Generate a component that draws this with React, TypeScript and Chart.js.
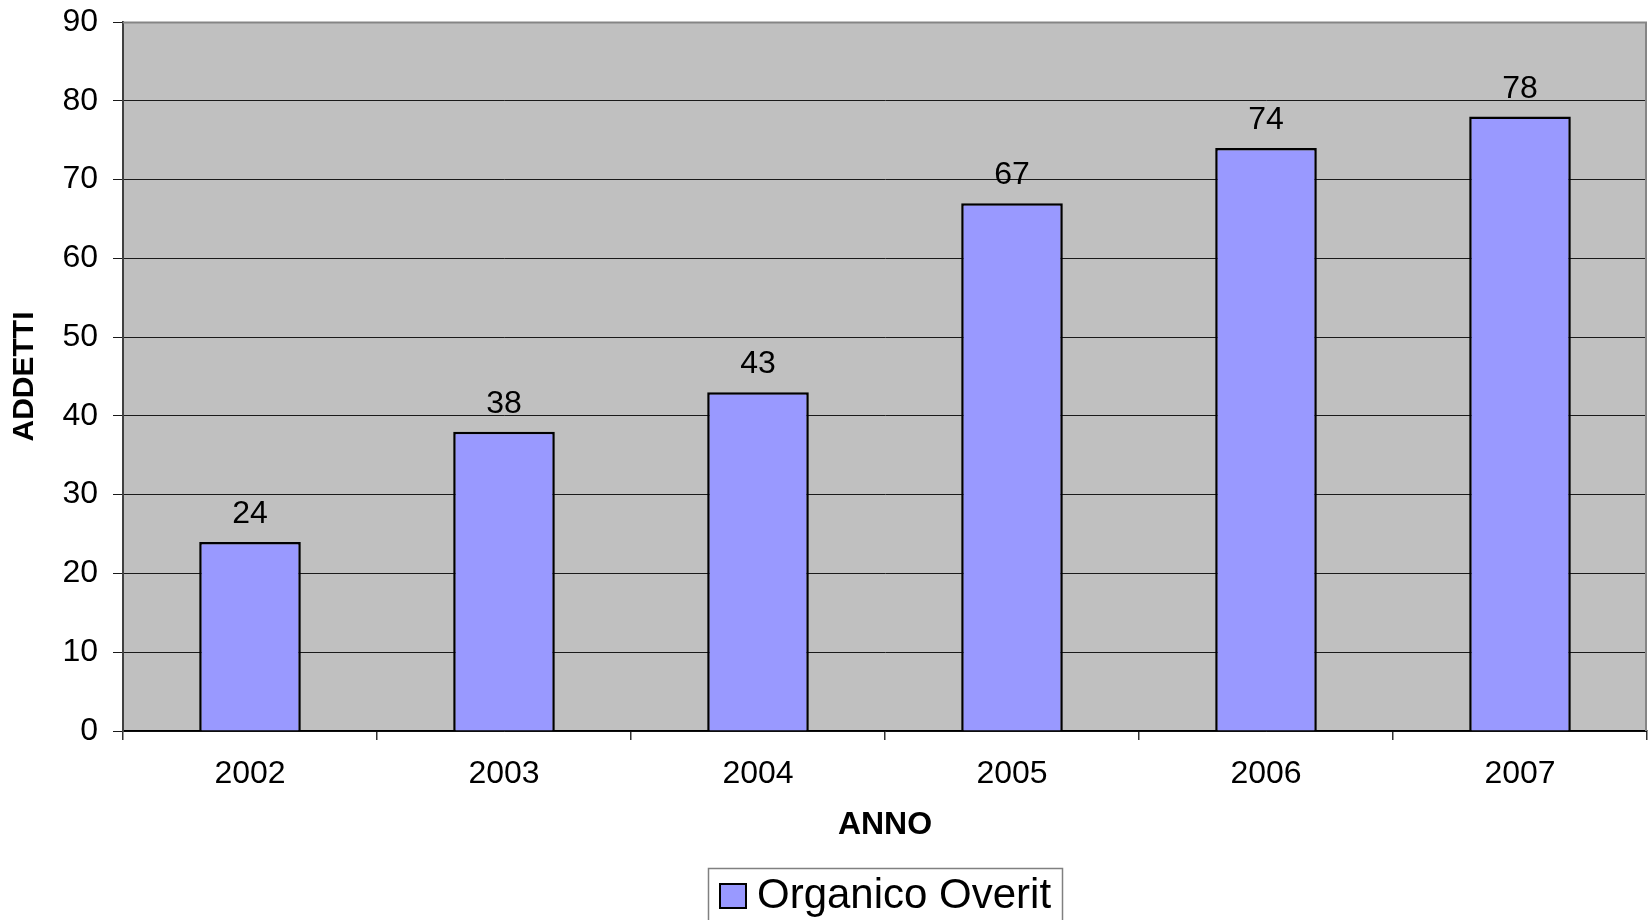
import React, { useEffect, useRef } from "react";
import { Chart, registerables } from "chart.js";

Chart.register(...registerables);

const categories: string[] = ["2002", "2003", "2004", "2005", "2006", "2007"];
const organicoValues: number[] = [24, 38, 43, 67, 74, 78];
const seriesLabel = "Organico Overit";
const xTitle = "ANNO";
const yTitle = "ADDETTI";
const yMin = 0;
const yMax = 90;
const yStep = 10;

const FONT = "'Liberation Sans', Arial, Helvetica, sans-serif";

export default function App() {
  const ref = useRef<HTMLCanvasElement>(null);

  useEffect(() => {
    document.body.style.margin = "0";
    const canvas = ref.current;
    if (!canvas) return;

    const plotBg = {
      id: "plotBg",
      beforeDraw(chart: any) {
        const { ctx, chartArea: a } = chart;
        ctx.save();
        ctx.fillStyle = "#C0C0C0";
        ctx.fillRect(a.left, a.top, a.right - a.left, a.bottom - a.top);
        ctx.restore();
      },
      beforeDatasetsDraw(chart: any) {
        const { ctx, chartArea: a } = chart;
        ctx.save();
        ctx.strokeStyle = "#858585";
        ctx.lineWidth = 2;
        ctx.beginPath();
        ctx.moveTo(a.left, a.top + 0.5);
        ctx.lineTo(a.right - 1, a.top + 0.5);
        ctx.lineTo(a.right - 1, a.bottom);
        ctx.stroke();
        ctx.restore();
      },
    };

    const valueLabels = {
      id: "valueLabels",
      afterDatasetsDraw(chart: any) {
        const { ctx } = chart;
        const meta = chart.getDatasetMeta(0);
        const data = chart.data.datasets[0].data as number[];
        ctx.save();
        ctx.fillStyle = "#000";
        ctx.font = `32px ${FONT}`;
        ctx.textAlign = "center";
        ctx.textBaseline = "alphabetic";
        meta.data.forEach((bar: any, i: number) => {
          ctx.fillText(String(data[i]), bar.x, bar.y - 19);
        });
        ctx.restore();
      },
    };

    const customLegend = {
      id: "customLegend",
      afterDraw(chart: any) {
        const { ctx } = chart;
        const ds = chart.data.datasets[0];
        ctx.save();
        ctx.strokeStyle = "#808080";
        ctx.lineWidth = 1.5;
        ctx.strokeRect(708.5, 868.5, 354, 80);
        ctx.fillStyle = ds.backgroundColor;
        ctx.fillRect(720, 884, 26, 24);
        ctx.strokeStyle = "#000";
        ctx.lineWidth = 2;
        ctx.strokeRect(720, 884, 26, 24);
        ctx.fillStyle = "#000";
        ctx.font = `42px ${FONT}`;
        ctx.textAlign = "left";
        ctx.textBaseline = "middle";
        ctx.fillText(ds.label, 757, 896);
        ctx.restore();
      },
    };

    const chart = new Chart(canvas, {
      type: "bar",
      data: {
        labels: categories,
        datasets: [
          {
            label: seriesLabel,
            data: organicoValues,
            backgroundColor: "#9999FF",
            borderColor: "#000000",
            borderWidth: 2.5,
            categoryPercentage: 1,
            barPercentage: 0.4,
          },
        ],
      },
      options: {
        responsive: false,
        animation: false,
        layout: { padding: { top: 22, right: 1, left: 0, bottom: 0 } },
        plugins: {
          legend: { display: false },
          tooltip: { enabled: false },
        },
        scales: {
          x: {
            afterFit(scale: any) {
              scale.height = 189;
              scale.paddingLeft = 0;
              scale.paddingRight = 0;
            },
            grid: {
              display: true,
              drawOnChartArea: false,
              drawTicks: true,
              tickLength: 9,
              color: "#333",
              lineWidth: 1.5,
              offset: true,
            },
            border: { display: true, color: "#000", width: 1.5 },
            ticks: {
              color: "#000",
              font: { family: FONT, size: 32 },
              padding: 15,
              maxRotation: 0,
            },
            title: {
              display: true,
              text: xTitle,
              color: "#000",
              font: { family: FONT, size: 32, weight: "bold" },
              padding: { top: 0, bottom: 76 },
            },
          },
          y: {
            min: yMin,
            max: yMax,
            afterFit(scale: any) {
              scale.width = 123;
              scale.paddingTop = 0;
              scale.paddingBottom = 0;
            },
            grid: {
              color: (c: any) => (c.tick && c.tick.value === yMax ? "#858585" : "#1a1a1a"),
              tickColor: "#1a1a1a",
              lineWidth: 1,
              tickLength: 10,
              drawTicks: true,
            },
            border: { display: true, color: "#404040", width: 2 },
            ticks: {
              stepSize: yStep,
              color: "#000",
              font: { family: FONT, size: 32 },
              padding: 15,
            },
            title: {
              display: true,
              text: yTitle,
              color: "#000",
              font: { family: FONT, size: 30, weight: "bold" },
              padding: { top: 7, bottom: 0 },
            },
          },
        },
      },
      plugins: [plotBg, valueLabels, customLegend],
    });

    return () => chart.destroy();
  }, []);

  return (
    <div style={{ width: 1648, height: 920, background: "#fff" }}>
      <canvas ref={ref} width={1648} height={920} style={{ display: "block" }} />
    </div>
  );
}
